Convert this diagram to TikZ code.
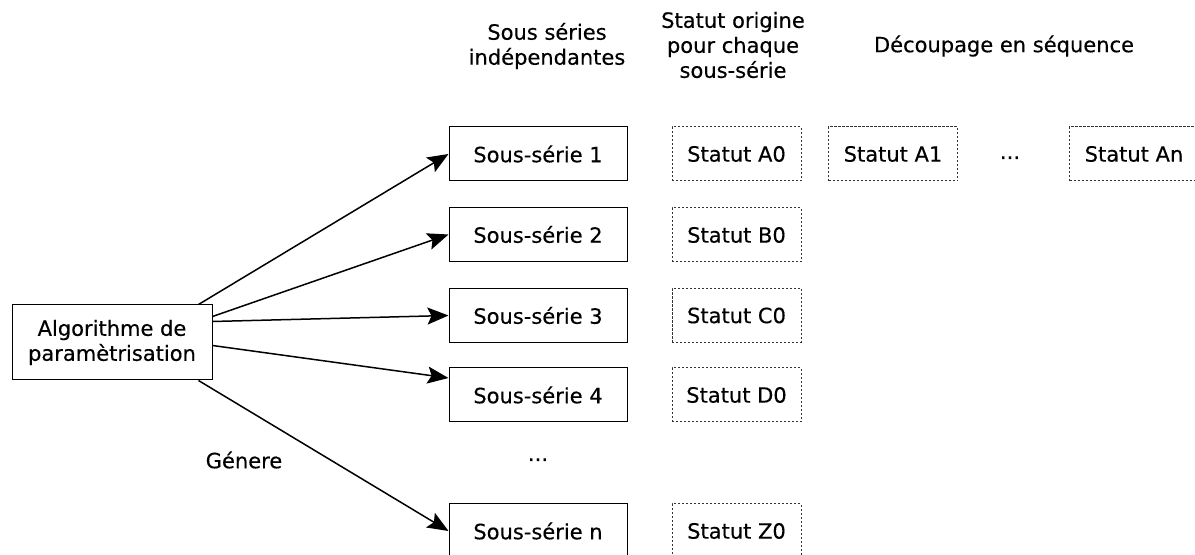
\documentclass[tikz,border=0pt]{standalone}
\usepackage{fontspec}
\setmainfont{DejaVu Sans}[FakeBold=0.35]
\usetikzlibrary{arrows.meta,calc}
\tikzset{
  solidbox/.style={draw=black,line width=0.5pt,minimum width=89pt,minimum height=27pt,inner sep=0pt,align=center},
  algobox/.style={draw=black,line width=0.5pt,minimum width=100pt,minimum height=37.5pt,inner sep=0pt,align=center},
  statbox/.style={draw=black!80,line width=0.5pt,dash pattern=on 1.2pt off 0.8pt,minimum width=64.5pt,minimum height=27pt,inner sep=0pt},
  lbl/.style={inner sep=0pt,align=center},
  arr/.style={draw=black,line width=0.75pt,-{Stealth[length=10.5pt,width=8.5pt,inset=2pt]}}
}
\begin{document}
\begin{tikzpicture}[x=0.5pt,y=-0.5pt,font=\fontsize{10.5}{12.5}\selectfont]
\useasboundingbox (0,0) rectangle (1195,555);
% headers
\node[lbl] (h1) at (547,46) {Sous séries\\indépendantes};
\node[lbl] (h2) at (733,45) {Statut origine\\pour chaque\\sous-série};
\node[lbl] (h3) at (1004,46) {Découpage en séquence};
% algorithm
\node[algobox] (algo) at (112,342.5) {Algorithme de\\paramètrisation};
% sub-series
\node[solidbox] (s1) at (538,154) {Sous-série 1};
\node[solidbox] (s2) at (538,234.5) {Sous-série 2};
\node[solidbox] (s3) at (538,315.5) {Sous-série 3};
\node[solidbox] (s4) at (538,395) {Sous-série 4};
\node[lbl,anchor=base] (sdots) at (538,461) {...};
\node[solidbox] (sn) at (538,531) {Sous-série n};
% statuts
\node[statbox] (a0) at (736.5,154) {Statut A0};
\node[statbox] (b0) at (736.5,235) {Statut B0};
\node[statbox] (c0) at (736.5,315.5) {Statut C0};
\node[statbox] (d0) at (736.5,395) {Statut D0};
\node[statbox] (z0) at (736.5,531) {Statut Z0};
\node[statbox] (a1) at (893,154) {Statut A1};
\node[lbl,anchor=base] (adots) at (1010,159) {...};
\node[statbox] (an) at (1134,154) {Statut An};
% label
\node[lbl] (gen) at (244,460) {Génere};
% arrows
\draw[arr] ($(algo.north east)+(-14,0)$) -- (s1.west);
\draw[arr] ($(algo.north east)+(0,12)$) -- (s2.west);
\draw[arr] ($(algo.north east)+(0,17)$) -- (s3.west);
\draw[arr] ($(algo.north east)+(0,41)$) -- ($(s4.west)+(0,-17)$);
\draw[arr] ($(algo.south east)+(-14,0)$) -- (sn.west);
\end{tikzpicture}
\end{document}
